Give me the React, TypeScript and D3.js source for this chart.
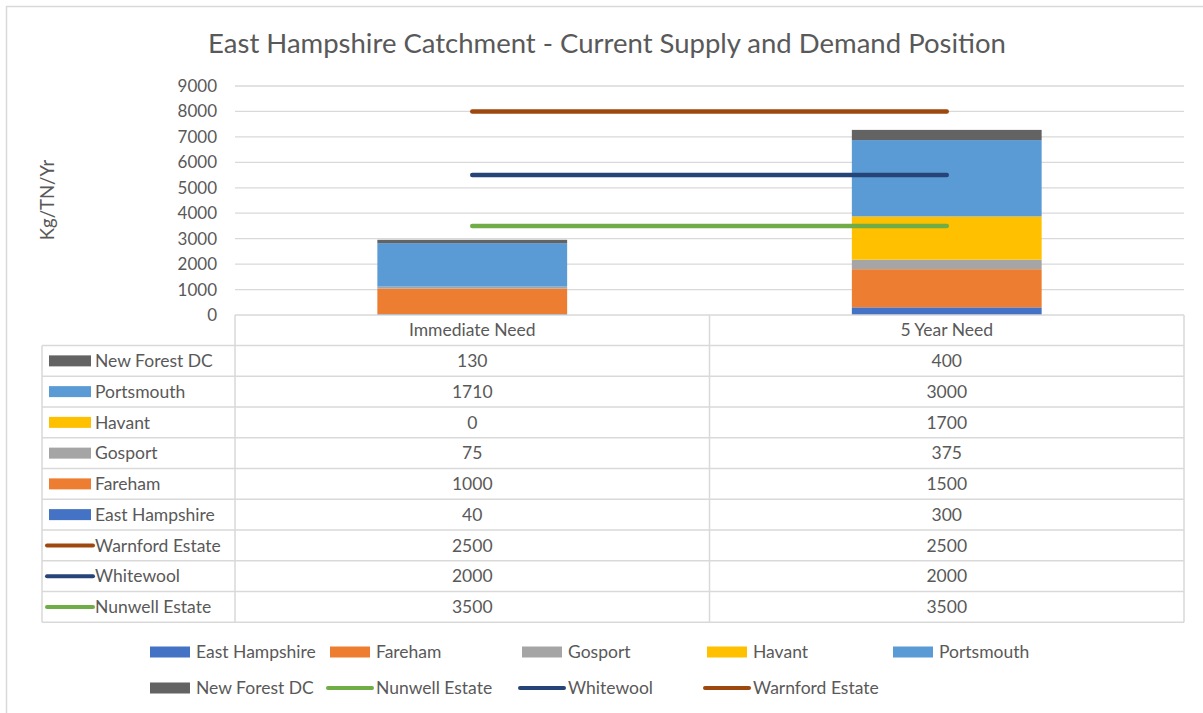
import React from 'react';
import * as d3 from 'd3';

// chart data
const categories = ['Immediate Need', '5 Year Need'];
const yTicks = [0, 1000, 2000, 3000, 4000, 5000, 6000, 7000, 8000, 9000];

const eastHampshire = [40, 300];
const fareham = [1000, 1500];
const gosport = [75, 375];
const havant = [0, 1700];
const portsmouth = [1710, 3000];
const newForest = [130, 400];

const nunwell = [3500, 3500];
const whitewool = [2000, 2000];
const warnford = [2500, 2500];

const barSeries = [
  { name: 'East Hampshire', values: eastHampshire, color: '#4472C4' },
  { name: 'Fareham', values: fareham, color: '#ED7D31' },
  { name: 'Gosport', values: gosport, color: '#A5A5A5' },
  { name: 'Havant', values: havant, color: '#FFC000' },
  { name: 'Portsmouth', values: portsmouth, color: '#5B9BD5' },
  { name: 'New Forest DC', values: newForest, color: '#636363' },
];

// lines are stacked on each other (Excel stacked line)
const lineSeries = [
  { name: 'Nunwell Estate', values: nunwell, color: '#70AD47' },
  { name: 'Whitewool', values: whitewool, color: '#264478' },
  { name: 'Warnford Estate', values: warnford, color: '#9E480E' },
];

const tableOrder = [
  'New Forest DC', 'Portsmouth', 'Havant', 'Gosport', 'Fareham', 'East Hampshire',
  'Warnford Estate', 'Whitewool', 'Nunwell Estate',
];
const legendRow1 = ['East Hampshire', 'Fareham', 'Gosport', 'Havant', 'Portsmouth'];
const legendRow2 = ['New Forest DC', 'Nunwell Estate', 'Whitewool', 'Warnford Estate'];

const W = 1203;
const H = 713;
const plot = { left: 235, right: 1184, top: 86, bottom: 315 };
const tableLeft = 42;
const rowH = 30.75;
const tableTop = 345.5;
const textColor = '#595959';
const gridColor = '#D9D9D9';
const font = 'Lato, "Open Sans", sans-serif';

export default function App() {
  const x = d3.scaleBand().domain(categories).range([plot.left, plot.right]).paddingInner(0).paddingOuter(0);
  const y = d3.scaleLinear().domain([0, 9000]).range([plot.bottom, plot.top]);
  const barW = x.bandwidth() * 0.4;

  const stackData = categories.map((c, i) => {
    const row: any = { cat: c };
    barSeries.forEach((s) => (row[s.name] = s.values[i]));
    return row;
  });
  const stacked = d3.stack().keys(barSeries.map((s) => s.name))(stackData);

  const lineData = categories.map((c, i) => {
    const row: any = { cat: c };
    lineSeries.forEach((s) => (row[s.name] = s.values[i]));
    return row;
  });
  const stackedLines = d3.stack().keys(lineSeries.map((s) => s.name))(lineData);
  const line = d3
    .line<any>()
    .x((d) => (x(d.data.cat) as number) + x.bandwidth() / 2)
    .y((d) => y(d[1]));

  const all = [...barSeries.map((s) => ({ ...s, kind: 'bar' })), ...lineSeries.map((s) => ({ ...s, kind: 'line' }))];
  const byName = (n: string) => all.find((s) => s.name === n)!;

  const swatch = (s: any, x0: number, cy: number, w: number) =>
    s.kind === 'bar' ? (
      <rect x={x0} y={cy - 5.5} width={w} height={11} fill={s.color} />
    ) : (
      <line x1={x0 - 2} x2={x0 + w + 2} y1={cy} y2={cy} stroke={s.color} strokeWidth={4} strokeLinecap="round" />
    );

  const legendCols = [150, 330, 522, 707, 893];
  const tableBottom = tableTop + rowH * tableOrder.length;

  return (
    <svg width={W} height={H} style={{ position: 'absolute', left: 0, top: 0, background: '#fff' }} fontFamily={font}>
      <rect x={6.5} y={6.5} width={W + 10} height={H + 10} fill="#fff" stroke={gridColor} strokeWidth={1.5} />

      <text x={607} y={53} textAnchor="middle" fontSize={27.5} fill={textColor}>
        East Hampshire Catchment - Current Supply and Demand Position
      </text>

      <text transform="translate(54,200) rotate(-90)" textAnchor="middle" fontSize={18.5} fill={textColor}>
        Kg/TN/Yr
      </text>

      {/* gridlines + y ticks */}
      {yTicks.map((t) => (
        <g key={t}>
          {t > 0 && <line x1={plot.left} x2={plot.right} y1={y(t)} y2={y(t)} stroke={gridColor} strokeWidth={1.3} />}
          <text x={217} y={y(t)} dy="0.35em" textAnchor="end" fontSize={17} fill={textColor}>
            {t}
          </text>
        </g>
      ))}

      {/* stacked bars */}
      {stacked.map((layer, li) => (
        <g key={layer.key} fill={barSeries[li].color}>
          {layer.map((d, i) => (
            <rect
              key={i}
              x={(x(categories[i]) as number) + (x.bandwidth() - barW) / 2}
              y={y(d[1])}
              width={barW}
              height={y(d[0]) - y(d[1])}
            />
          ))}
        </g>
      ))}

      {/* stacked lines */}
      {stackedLines.map((layer, li) => (
        <path key={layer.key} d={line(layer as any) as string} fill="none" stroke={lineSeries[li].color} strokeWidth={4.5} strokeLinecap="round" />
      ))}

      {/* data table */}
      <g stroke={gridColor} strokeWidth={1.5} fill="none">
        <line x1={plot.left} x2={plot.right} y1={plot.bottom} y2={plot.bottom} />
        {tableOrder.map((_, i) => (
          <line key={i} x1={tableLeft} x2={plot.right} y1={tableTop + i * rowH} y2={tableTop + i * rowH} />
        ))}
        <line x1={tableLeft} x2={plot.right} y1={tableBottom} y2={tableBottom} />
        <line x1={tableLeft} x2={tableLeft} y1={tableTop} y2={tableBottom} />
        <line x1={plot.left} x2={plot.left} y1={plot.bottom} y2={tableBottom} />
        <line x1={x(categories[1])} x2={x(categories[1])} y1={plot.bottom} y2={tableBottom} />
        <line x1={plot.right} x2={plot.right} y1={plot.bottom} y2={tableBottom} />
      </g>
      {categories.map((c) => (
        <text key={c} x={(x(c) as number) + x.bandwidth() / 2} y={(plot.bottom + tableTop) / 2} dy="0.35em" textAnchor="middle" fontSize={17.5} fill={textColor}>
          {c}
        </text>
      ))}
      {tableOrder.map((n, r) => {
        const s: any = byName(n);
        const cy = tableTop + (r + 0.5) * rowH;
        return (
          <g key={n}>
            {swatch(s, 49, cy, 42)}
            <text x={95} y={cy} dy="0.35em" fontSize={17.5} fill={textColor}>
              {n}
            </text>
            {categories.map((c, i) => (
              <text key={c} x={(x(c) as number) + x.bandwidth() / 2} y={cy} dy="0.35em" textAnchor="middle" fontSize={17.5} fill={textColor}>
                {s.values[i]}
              </text>
            ))}
          </g>
        );
      })}

      {/* legend */}
      {[legendRow1, legendRow2].map((row, ri) =>
        row.map((n, ci) => {
          const s: any = byName(n);
          const cy = ri === 0 ? 652 : 688;
          return (
            <g key={n}>
              {swatch(s, legendCols[ci], cy, 40)}
              <text x={legendCols[ci] + 46} y={cy} dy="0.35em" fontSize={17.5} fill={textColor}>
                {n}
              </text>
            </g>
          );
        })
      )}
    </svg>
  );
}
